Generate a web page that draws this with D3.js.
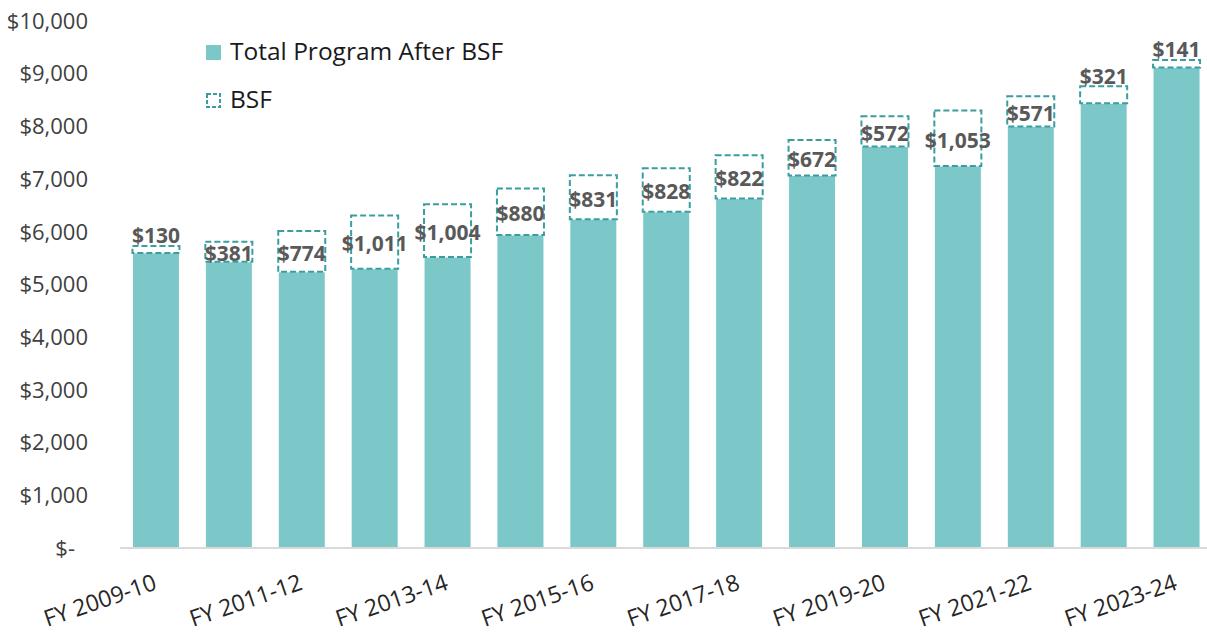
<!DOCTYPE html>
<html lang="en">
<head>
    <meta charset="UTF-8">
    <title>Total Program After BSF</title>
    <script src="https://d3js.org/d3.v7.min.js"></script>
    <style>
        body { margin: 0; background: #fff; }
        text { font-family: "Open Sans", "Noto Sans", sans-serif; }
        .tick-y { fill: #404040; font-size: 22px; }
        .tick-x { fill: #262626; font-size: 23px; }
        .val { fill: #595959; font-size: 21px; font-weight: 700; }
        .legend { fill: #1a1a1a; font-size: 24.5px; }
    </style>
</head>
<body>
    <script>
        //DATA
        const years = ["FY 2009-10", "FY 2010-11", "FY 2011-12", "FY 2012-13", "FY 2013-14",
                       "FY 2014-15", "FY 2015-16", "FY 2016-17", "FY 2017-18", "FY 2018-19",
                       "FY 2019-20", "FY 2020-21", "FY 2021-22", "FY 2022-23", "FY 2023-24"];
        const afterBSF = [5600, 5430, 5240, 5300, 5520, 5940, 6240, 6380, 6630, 7070, 7620, 7250, 8000, 8440, 9120];
        const bsf = [130, 381, 774, 1011, 1004, 880, 831, 828, 822, 672, 572, 1053, 571, 321, 141];
        const yTicks = [0, 1000, 2000, 3000, 4000, 5000, 6000, 7000, 8000, 9000, 10000];
        const legendNames = ["Total Program After BSF", "BSF"];

        const data = years.map((d, i) => ({ year: d, base: afterBSF[i], bsf: bsf[i] }));

        //CONSTANTS
        const width = 1207;
        const height = 633;
        const teal = "#7cc8c9";
        const dashTeal = "#3a9ea0";

        const svg = d3.select("body").append("svg")
            .attr("width", width)
            .attr("height", height);

        const x = d3.scaleBand()
            .domain(years)
            .range([119.5, 1213])
            .paddingInner(0.355)
            .paddingOuter(0.1775);

        const y = d3.scaleLinear()
            .domain([0, 10000])
            .range([548, 21]);

        //Y AXIS LABELS (accounting style, zero shows as "$-")
        const fmt = d3.format("$,");
        svg.selectAll("text.tick-y")
            .data(yTicks)
            .enter()
            .append("text")
            .attr("class", "tick-y")
            .attr("x", d => d === 0 ? 75 : 88)
            .attr("y", d => y(d))
            .attr("dy", "0.35em")
            .attr("text-anchor", "end")
            .text(d => d === 0 ? "$-" : fmt(d));

        //BARS
        const groups = svg.selectAll("g.bar")
            .data(data)
            .enter()
            .append("g")
            .attr("class", "bar");

        groups.append("rect")
            .attr("x", d => x(d.year))
            .attr("width", x.bandwidth())
            .attr("y", d => y(d.base))
            .attr("height", d => y(0) - y(d.base))
            .attr("fill", teal)
            .attr("stroke", "#ffffff")
            .attr("stroke-width", 1);

        groups.append("rect")
            .attr("x", d => x(d.year))
            .attr("width", x.bandwidth())
            .attr("y", d => y(d.base + d.bsf))
            .attr("height", d => y(d.base) - y(d.base + d.bsf))
            .attr("fill", "none")
            .attr("stroke", dashTeal)
            .attr("stroke-width", 2)
            .attr("stroke-dasharray", "6,3");

        //AXIS LINE
        svg.append("line")
            .attr("x1", 120)
            .attr("x2", width)
            .attr("y1", y(0))
            .attr("y2", y(0))
            .attr("stroke", "#d9d9d9")
            .attr("stroke-width", 2);

        //VALUE LABELS - centred in the BSF box, moved above it when the box is too short
        groups.append("text")
            .attr("class", "val")
            .attr("text-anchor", "middle")
            .attr("x", d => x(d.year) + x.bandwidth() / 2)
            .attr("y", d => {
                const top = y(d.base + d.bsf);
                const h = y(d.base) - top;
                return h >= 19 ? top + h / 2 + 2 : top - 10;
            })
            .attr("dy", "0.35em")
            .text(d => fmt(d.bsf));

        //X LABELS (every other year)
        svg.selectAll("text.tick-x")
            .data(years.filter((d, i) => i % 2 === 0))
            .enter()
            .append("text")
            .attr("class", "tick-x")
            .attr("text-anchor", "end")
            .attr("transform", d => "translate(" + (x(d) + x.bandwidth() / 2 + 2) + ",589) rotate(-19)")
            .text(d => d);

        //LEGEND
        const legend = svg.append("g").attr("class", "legend-g");
        legend.append("rect")
            .attr("x", 206).attr("y", 45)
            .attr("width", 15).attr("height", 15)
            .attr("fill", teal);
        legend.append("rect")
            .attr("x", 207).attr("y", 94)
            .attr("width", 13).attr("height", 13)
            .attr("fill", "none")
            .attr("stroke", dashTeal)
            .attr("stroke-width", 2)
            .attr("stroke-dasharray", "4,2");
        legend.selectAll("text")
            .data(legendNames)
            .enter()
            .append("text")
            .attr("class", "legend")
            .attr("x", 230)
            .attr("y", (d, i) => 60 + i * 48)
            .text(d => d);
    </script>
</body>
</html>
